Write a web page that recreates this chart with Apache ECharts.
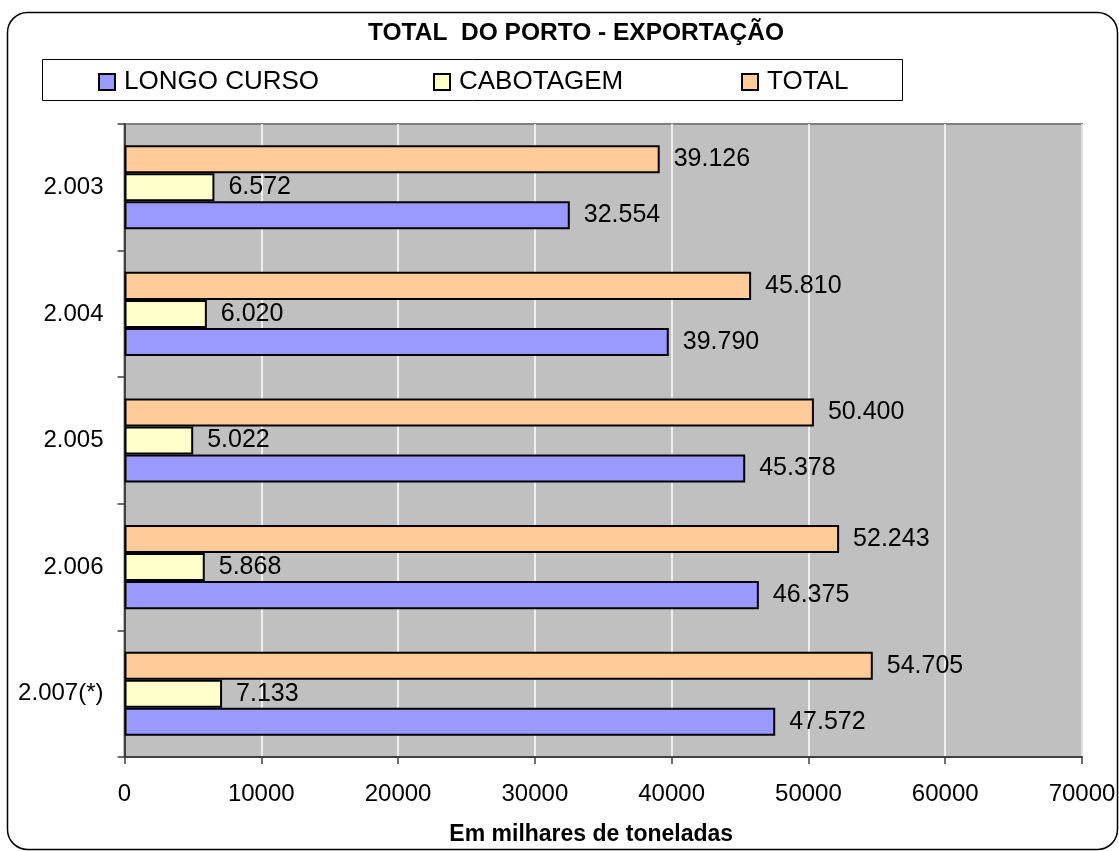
<!DOCTYPE html>
<html>
<head>
<meta charset="utf-8">
<script src="https://cdn.jsdelivr.net/npm/echarts@6/dist/echarts.min.js"></script>
<style>
html,body{margin:0;padding:0;background:#fff;}
#c{width:1119px;height:851px;}
</style>
</head>
<body>
<div id="c"></div>
<script>
const categories = ['2.003', '2.004', '2.005', '2.006', '2.007(*)'];
const longoCurso = [32554, 39790, 45378, 46375, 47572];
const cabotagem = [6572, 6020, 5022, 5868, 7133];
const total = [39126, 45810, 50400, 52243, 54705];
const xTicks = { min: 0, max: 70000, interval: 10000 };
const legendNames = ['LONGO CURSO', 'CABOTAGEM', 'TOTAL'];

const FONT = '"Liberation Sans", Arial, sans-serif';
function fmt(v) {
  return String(v).replace(/\B(?=(\d{3})+(?!\d))/g, '.');
}
function mkSeries(name, data, color) {
  return {
    name: name,
    type: 'bar',
    data: data,
    barGap: '0%',
    barCategoryGap: '33.6%',
    itemStyle: { color: color, borderColor: '#000', borderWidth: 2 },
    label: {
      show: true, position: 'right', distance: 14,
      color: '#000', fontFamily: FONT, fontSize: 25,
      formatter: p => fmt(p.value)
    },
    emphasis: { disabled: true },
    animation: false
  };
}
const legendLefts = [98, 433, 741];
const legends = legendNames.map((n, i) => ({
  data: [n],
  left: legendLefts[i], top: 69, padding: 0,
  itemWidth: 16, itemHeight: 16,
  icon: 'rect',
  textStyle: { fontFamily: FONT, fontSize: 26, color: '#000', padding: [0, 0, 0, 4] },
  selectedMode: false
}));

const chart = echarts.init(document.getElementById('c'), null, { renderer: 'canvas' });
chart.setOption({
  backgroundColor: '#fff',
  animation: false,
  title: {
    text: 'TOTAL  DO PORTO - EXPORTAÇÃO',
    left: 368, top: 21, padding: 0,
    textStyle: { fontFamily: FONT, fontSize: 24.5, fontWeight: 'bold', color: '#000' }
  },
  graphic: [
    { type: 'rect', z: -1, shape: { x: 7.5, y: 12.5, width: 1110, height: 837, r: 20 },
      style: { fill: null, stroke: '#000', lineWidth: 1.5 } },
    { type: 'rect', z: -1, shape: { x: 42.5, y: 59.5, width: 860, height: 41 },
      style: { fill: '#fff', stroke: '#000', lineWidth: 1 } }
  ],
  legend: legends,
  grid: {
    left: 124.5, right: 37, top: 124, bottom: 94,
    show: true, backgroundColor: '#C0C0C0', borderColor: '#808080', borderWidth: 2
  },
  xAxis: {
    type: 'value', min: xTicks.min, max: xTicks.max, interval: xTicks.interval,
    name: 'Em milhares de toneladas', nameLocation: 'middle', nameGap: 66,
    nameTextStyle: { fontFamily: FONT, fontSize: 23, fontWeight: 'bold', color: '#000', padding: [0, 24, 0, 0] },
    axisLine: { show: true, lineStyle: { color: '#404040', width: 2 } },
    axisTick: { show: true, length: 7, lineStyle: { color: '#404040', width: 1.5 } },
    axisLabel: { fontFamily: FONT, fontSize: 24, color: '#000', margin: 25, formatter: v => String(v) },
    splitLine: { show: true, lineStyle: { color: '#FFFFFF', width: 1.5 } }
  },
  yAxis: {
    type: 'category', data: categories, inverse: true,
    axisLine: { show: true, lineStyle: { color: '#404040', width: 2 } },
    axisTick: { show: true, length: 7, lineStyle: { color: '#404040', width: 1.5 } },
    axisLabel: { fontFamily: FONT, fontSize: 24, color: '#000', margin: 21 },
    splitLine: { show: false }
  },
  series: [
    mkSeries('TOTAL', total, '#FFCC99'),
    mkSeries('CABOTAGEM', cabotagem, '#FFFFCC'),
    mkSeries('LONGO CURSO', longoCurso, '#9999FF')
  ]
});
</script>
</body>
</html>
